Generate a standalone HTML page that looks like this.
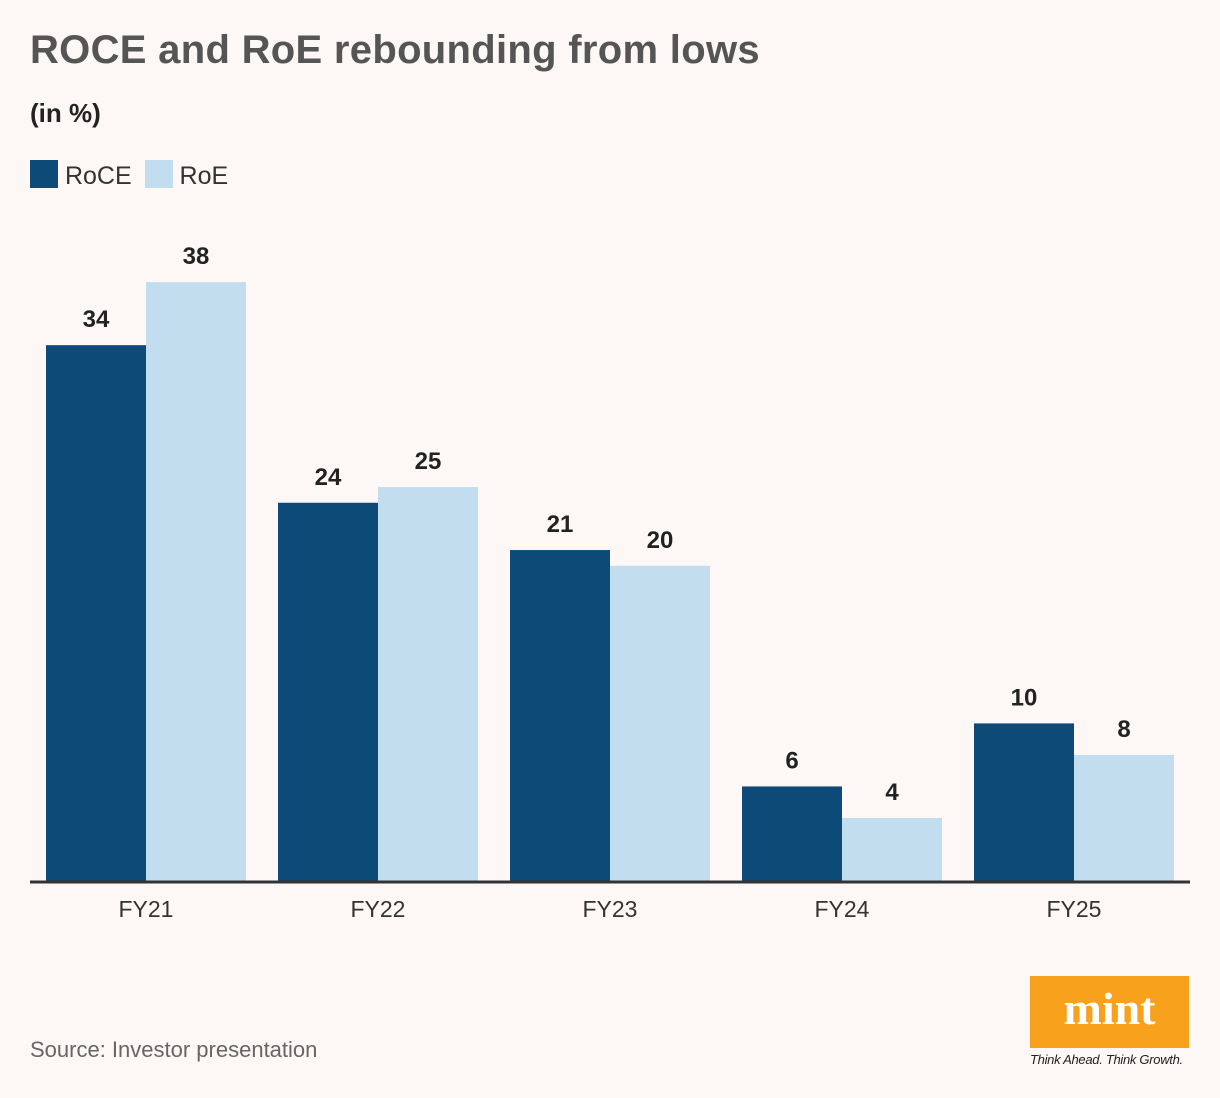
<!DOCTYPE html>
<html><head><meta charset="utf-8"><style>
body{margin:0;width:1220px;height:1098px;background:#fdf8f6;font-family:"Liberation Sans",sans-serif;position:relative;overflow:hidden}
.abs{position:absolute}
</style></head><body>
<div class="abs" style="left:30px;top:28px;font-size:40px;font-weight:bold;color:#555;letter-spacing:0.3px">ROCE and RoE rebounding from lows</div>
<div class="abs" style="left:30px;top:98px;font-size:26px;font-weight:bold;color:#222">(in %)</div>
<div class="abs" style="left:30px;top:160px;font-size:25px;color:#333">
<span><span style="display:inline-block;width:28px;height:28px;background:#0d4a78;vertical-align:-4px"></span> RoCE</span>
<span style="margin-left:6px"><span style="display:inline-block;width:28px;height:28px;background:#c2ddee;vertical-align:-4px"></span> RoE</span>
</div>
<svg id="chart" class="abs" style="left:0;top:0" width="1220" height="1000"></svg>
<div class="abs" style="left:30px;top:1037px;font-size:22px;color:#666">Source: Investor presentation</div>
<div class="abs" style="left:1030px;top:976px;width:159px;height:72px;background:#f7a11d;color:#fff;font-family:'Liberation Serif',serif;font-weight:bold;font-size:46px;text-align:center;line-height:66px">mint</div>
<div class="abs" style="left:1030px;top:1052px;font-size:13px;font-style:italic;color:#222;letter-spacing:-0.3px">Think Ahead. Think Growth.</div>
<script>
const categories=["FY21","FY22","FY23","FY24","FY25"];
const roce=[34,24,21,6,10];
const roe=[38,25,20,4,8];
const svg=document.getElementById('chart');
const NS='http://www.w3.org/2000/svg';
const base=881, scale=15.76, x0=46, gw=232, bw=100;
function y(v){return base-v*scale;}
function gx(i){return x0+i*gw;}
function mk(t,a){const e=document.createElementNS(NS,t);for(const k in a)e.setAttribute(k,a[k]);svg.appendChild(e);return e;}
categories.forEach((c,i)=>{
 [[roce,'#0d4a78',0,'roce'],[roe,'#c2ddee',1,'roe']].forEach(([arr,col,o,n])=>{
  const x=gx(i)+o*bw;
  const r=mk('rect',{x:x,y:y(arr[i]),width:bw,height:arr[i]*scale,fill:col});
  
  
  const t=mk('text',{x:x+bw/2,y:y(arr[i])-18,'text-anchor':'middle','font-size':24,'font-weight':'bold',fill:'#222','font-family':'Liberation Sans, sans-serif'});
  t.textContent=arr[i];
  
  
 });
 const l=mk('text',{x:gx(i)+bw,y:917,'text-anchor':'middle','font-size':23,fill:'#333','font-family':'Liberation Sans, sans-serif'});
 l.textContent=c;
 
 
});
const ax=mk('line',{x1:30,x2:1190,y1:base+1,y2:base+1,stroke:'#333','stroke-width':3});


</script>
</body></html>
